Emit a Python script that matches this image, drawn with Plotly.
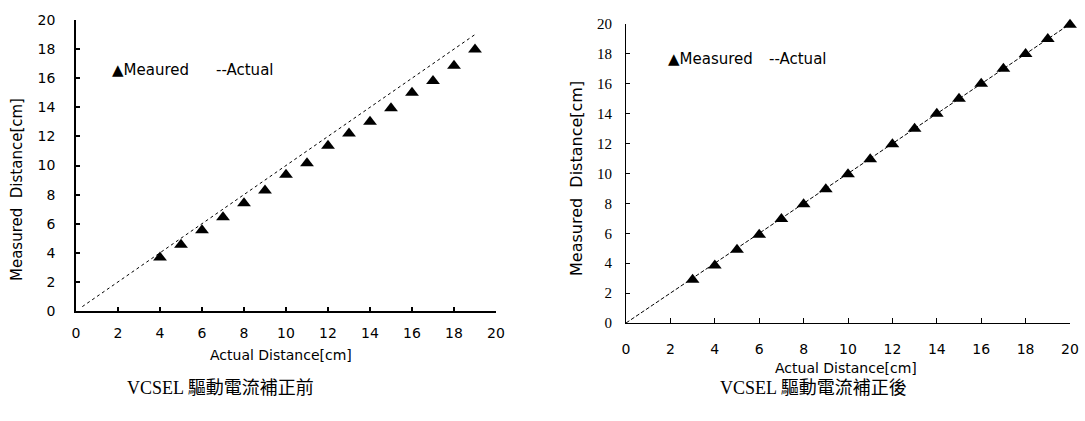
import plotly.graph_objects as go

# ---- data ----
left_x = [4, 5, 6, 7, 8, 9, 10, 11, 12, 13, 14, 15, 16, 17, 18, 19]
left_measured = [3.67, 4.56, 5.55, 6.44, 7.41, 8.28, 9.36, 10.16, 11.35, 12.2,
                 13.0, 13.94, 15.0, 15.8, 16.86, 17.98]
left_actual_x = [0.3, 19]
left_actual_y = [0.3, 19]

right_x = [3, 4, 5, 6, 7, 8, 9, 10, 11, 12, 13, 14, 15, 16, 17, 18, 19, 20]
right_measured = [2.9, 3.85, 4.9, 5.9, 6.95, 7.95, 8.95, 9.95, 10.95, 11.95,
                  13.0, 14.0, 15.0, 16.0, 17.0, 18.0, 19.0, 19.95]
right_actual_x = [0, 20]
right_actual_y = [0, 20]

tick_vals = [0, 2, 4, 6, 8, 10, 12, 14, 16, 18, 20]
tick_text = ["0", "2", "4", "6", "8", "10", "12", "14", "16", "18", "20"]

W, H = 1085, 421

fig = go.Figure()

# left panel
fig.add_trace(go.Scatter(x=left_actual_x, y=left_actual_y, mode="lines",
                         line=dict(color="black", width=1, dash="3px,3px"),
                         xaxis="x", yaxis="y", showlegend=False, name="Actual"))
fig.add_trace(go.Scatter(x=left_x, y=left_measured, mode="markers",
                         marker=dict(symbol="triangle-up", size=12, color="black"),
                         xaxis="x", yaxis="y", showlegend=False, name="Meaured",
                         cliponaxis=False))
# right panel
fig.add_trace(go.Scatter(x=right_actual_x, y=right_actual_y, mode="lines",
                         line=dict(color="black", width=1, dash="4px,2px"),
                         xaxis="x2", yaxis="y2", showlegend=False, name="Actual"))
fig.add_trace(go.Scatter(x=right_x, y=right_measured, mode="markers",
                         marker=dict(symbol="triangle-up", size=12, color="black"),
                         xaxis="x2", yaxis="y2", showlegend=False, name="Measured",
                         cliponaxis=False))

sans = "DejaVu Sans, Noto Sans"
serif = "Liberation Serif, Noto Sans CJK TC"

def px_x(p):
    return p / W

def px_y(p):
    return 1 - p / H

common = dict(range=[0, 20], tickvals=tick_vals, ticktext=tick_text,
              showgrid=False, zeroline=False, showline=True, linecolor="black",
              ticks="inside", tickcolor="black", fixedrange=True, automargin=False)

fig.update_layout(
    width=W, height=H,
    margin=dict(l=0, r=0, t=0, b=0, pad=0, autoexpand=False),
    paper_bgcolor="white", plot_bgcolor="white",
    xaxis=dict(**common, domain=[px_x(76), px_x(496)], anchor="y",
               linewidth=1.5, ticklen=4, tickwidth=1.5,
               tickfont=dict(family=sans, size=14, color="black"),
               ticklabelstandoff=8),
    yaxis=dict(**common, domain=[px_y(311), px_y(20)], anchor="x",
               linewidth=1.5, ticklen=4, tickwidth=1.5,
               tickfont=dict(family=sans, size=14, color="black"),
               ticklabelstandoff=16),
    xaxis2=dict(**common, domain=[px_x(626), px_x(1070)], anchor="y2",
                linewidth=1, ticklen=5, tickwidth=1,
                tickfont=dict(family=sans, size=14, color="black"),
                ticklabelstandoff=13),
    yaxis2=dict(**common, domain=[px_y(323), px_y(24)], anchor="x2",
                linewidth=1, ticklen=4, tickwidth=1,
                tickfont=dict(family="Liberation Serif", size=15, color="black"),
                ticklabelstandoff=10),
)

anns = [
    # axis titles
    dict(text="Actual Distance[cm]", x=px_x(281), y=px_y(355), font=dict(family=sans, size=14)),
    dict(text="Measured  Distance[cm]", x=px_x(17), y=px_y(190), textangle=-90, font=dict(family=sans, size=15)),
    dict(text="Actual Distance[cm]", x=px_x(846), y=px_y(368), font=dict(family=sans, size=14)),
    dict(text="Measured  Distance[cm]", x=px_x(576), y=px_y(179), textangle=-90, font=dict(family=sans, size=16)),
    # legends
    dict(text="▲Meaured", x=px_x(110), y=px_y(70), xanchor="left", font=dict(family=sans, size=15)),
    dict(text="--Actual", x=px_x(214), y=px_y(70), xanchor="left", font=dict(family=sans, size=15)),
    dict(text="▲Measured", x=px_x(666), y=px_y(59), xanchor="left", font=dict(family=sans, size=15)),
    dict(text="--Actual", x=px_x(767), y=px_y(59), xanchor="left", font=dict(family=sans, size=15)),
    # panel captions
    dict(text="VCSEL 驅動電流補正前", x=px_x(220), y=px_y(388), font=dict(family=serif, size=18)),
    dict(text="VCSEL 驅動電流補正後", x=px_x(813), y=px_y(388), font=dict(family=serif, size=18)),
]
for a in anns:
    a.setdefault("xanchor", "center")
    a.update(xref="paper", yref="paper", yanchor="middle", showarrow=False)
    a["font"]["color"] = "black"
fig.update_layout(annotations=anns)

fig.write_html("out.html", config={"displayModeBar": False},
               post_script="document.body.style.margin='0';document.body.style.overflow='hidden';")
